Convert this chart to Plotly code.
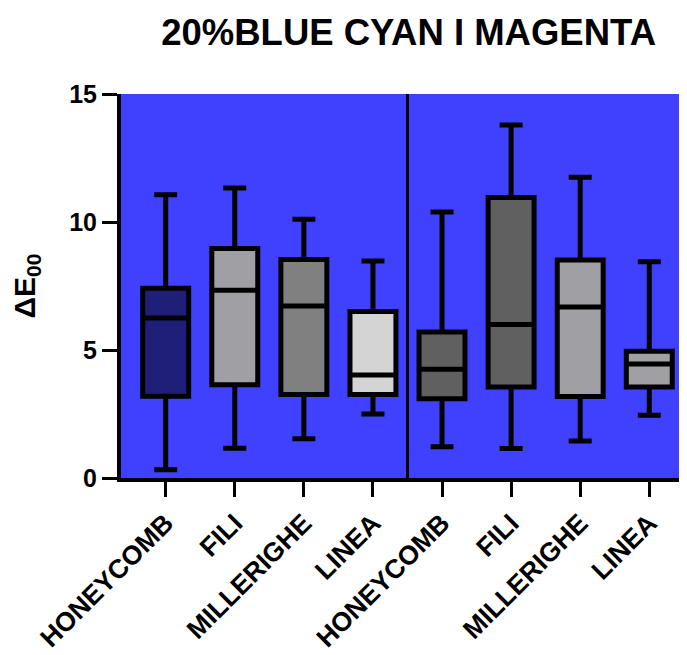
import plotly.graph_objects as go

categories = ["HONEYCOMB", "FILI", "MILLERIGHE", "LINEA",
              "HONEYCOMB", "FILI", "MILLERIGHE", "LINEA"]
lower_whisker = [0.32, 1.16, 1.53, 2.50, 1.22, 1.15, 1.45, 2.45]
q1_values     = [3.19, 3.64, 3.26, 3.26, 3.10, 3.55, 3.18, 3.55]
median_values = [6.25, 7.33, 6.72, 4.02, 4.25, 6.00, 6.68, 4.45]
q3_values     = [7.41, 8.96, 8.54, 6.50, 5.70, 10.96, 8.52, 4.95]
upper_whisker = [11.06, 11.33, 10.11, 8.48, 10.39, 13.79, 11.75, 8.45]
fill_colors = ["#1F1F7A", "#A0A0A4", "#808080", "#D4D4D4",
               "#606060", "#606060", "#A0A0A4", "#A0A0A4"]
y_tick_values = [0, 5, 10, 15]

FONT = "Arial, Liberation Sans, sans-serif"

fig = go.Figure()
for i, cat in enumerate(categories):
    fig.add_trace(go.Box(
        x=[i],
        q1=[q1_values[i]], median=[median_values[i]], q3=[q3_values[i]],
        lowerfence=[lower_whisker[i]], upperfence=[upper_whisker[i]],
        name=cat,
        width=0.665,
        whiskerwidth=0.5,
        fillcolor=fill_colors[i],
        line=dict(color="black", width=5),
        boxpoints=False,
        showlegend=False,
        hoverinfo="skip",
    ))

fig.add_shape(type="line", xref="x", yref="paper", x0=3.5, x1=3.5, y0=0, y1=1,
              line=dict(color="black", width=3))

fig.update_layout(
    width=679, height=647,
    margin=dict(l=113, r=0, t=86, b=177),
    paper_bgcolor="white",
    plot_bgcolor="#4040FF",
    boxmode="overlay",
    font=dict(family=FONT, color="black"),
    title=dict(text="<b>20%BLUE CYAN I MAGENTA</b>", x=0.59, xanchor="center",
               y=0.962, yanchor="middle", yref="container",
               font=dict(size=36.5, family=FONT, color="black")),
    xaxis=dict(
        range=[-0.647, 7.546],
        tickmode="array",
        tickvals=list(range(len(categories))),
        ticktext=["<b>%s</b>" % c for c in categories],
        tickangle=-45,
        tickfont=dict(size=26.5, family=FONT, color="black"),
        ticks="outside", ticklen=15, tickwidth=3, tickcolor="black",
        showline=True, linecolor="black", linewidth=4,
        showgrid=False, zeroline=False,
        automargin=False,
    ),
    yaxis=dict(
        range=[0, 15],
        tickmode="array",
        tickvals=y_tick_values,
        ticktext=["<b>%d</b>" % v for v in y_tick_values],
        tickfont=dict(size=25, family=FONT, color="black"),
        ticks="outside", ticklen=15, tickwidth=3, tickcolor="black",
        showline=True, linecolor="black", linewidth=4,
        showgrid=False, zeroline=False,
        title=dict(text="<b>ΔE<sub>00</sub></b>", standoff=26,
                   font=dict(size=30, family=FONT, color="black")),
        automargin=False,
    ),
)

fig.write_html("out.html")
